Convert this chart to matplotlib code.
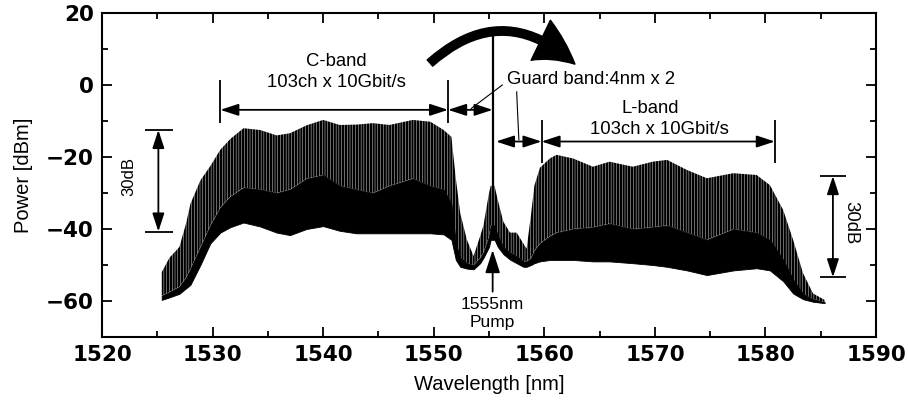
import matplotlib
matplotlib.use("Agg")
import matplotlib.pyplot as plt
from matplotlib.patches import FancyArrowPatch
from matplotlib.ticker import MultipleLocator

# spectrum envelope: wavelength [nm], channel peaks,
# top of the dense (unresolved) part, and the noise floor, all in dBm
wavelength = [
    1525.4, 1526.1, 1527.0, 1527.6, 1528.0, 1528.9, 1529.8, 1530.7, 1531.6,
    1532.8, 1534.3, 1535.8, 1537.0, 1538.5, 1540.0, 1541.5, 1543.0, 1544.5,
    1546.0, 1548.1, 1549.7, 1550.9, 1551.6, 1552.0, 1552.4, 1553.0, 1553.6,
    1554.2, 1554.5, 1555.0, 1555.15, 1555.5, 1555.8, 1556.3, 1556.9, 1557.5,
    1558.1, 1558.4, 1558.8, 1559.1, 1559.6, 1560.5, 1561.1, 1562.6, 1564.4,
    1565.9, 1568.0, 1569.8, 1571.1, 1572.9, 1574.7, 1577.1, 1579.2, 1580.4,
    1581.6, 1582.5, 1583.4, 1584.3, 1585.35,
]
peak_dbm = [
    -52.0, -48.0, -45.0, -38.5, -33.0, -26.5, -22.5, -18.0, -15.0,
    -12.0, -12.5, -14.0, -13.4, -11.2, -9.7, -11.1, -11.0, -10.6,
    -11.1, -9.7, -10.2, -12.5, -14.4, -26.0, -35.6, -43.0, -47.5,
    -42.0, -39.0, -30.0, -28.0, -28.0, -32.0, -38.0, -41.0, -41.0,
    -44.0, -45.5, -36.0, -28.0, -23.0, -20.4, -19.4, -20.4, -22.7,
    -21.3, -22.7, -21.3, -20.8, -23.6, -25.9, -24.5, -25.0, -27.8,
    -34.7, -43.0, -52.3, -57.9, -59.7,
]
dense_dbm = [
    -58.5, -57.5, -56.0, -53.5, -51.0, -45.0, -39.0, -34.0, -31.0,
    -28.5, -29.0, -30.0, -29.0, -26.0, -25.0, -28.0, -29.0, -30.0,
    -28.0, -26.0, -28.0, -29.0, -33.0, -44.0, -48.0, -49.5, -50.0,
    -48.0, -46.5, -42.0, -39.0, -39.0, -42.0, -45.0, -46.5, -47.5,
    -49.0, -49.0, -48.0, -46.0, -44.0, -42.0, -41.0, -40.0, -39.5,
    -38.5, -40.0, -39.5, -39.0, -41.0, -43.0, -40.0, -41.0, -43.0,
    -48.5, -54.0, -58.0, -59.5, -60.3,
]
floor_dbm = [
    -59.7, -59.0, -58.0, -56.5, -55.5, -50.0, -44.0, -41.0, -39.5,
    -38.2, -39.3, -41.0, -41.7, -40.0, -39.2, -40.5, -41.2, -41.2,
    -41.2, -41.2, -41.2, -41.5, -43.0, -48.6, -50.5, -51.0, -51.2,
    -49.5, -48.0, -45.0, -43.0, -43.0, -45.0, -47.0, -48.5, -49.5,
    -50.5, -50.5, -50.0, -49.5, -49.0, -48.6, -48.6, -48.6, -49.0,
    -49.0, -49.5, -50.0, -50.5, -51.5, -52.8, -51.5, -50.9, -51.5,
    -54.5, -57.9, -59.5, -60.2, -60.6,
]

pump_wl = 1555.33
pump_floor = -43.0
pump_peak = 15.8

c_band = (1530.7, 1551.3)
l_band = (1559.75, 1580.85)

plt.rcParams["hatch.linewidth"] = 1.7

fig = plt.figure(figsize=(9.08, 4.0), dpi=100)
ax = fig.add_axes([0.1123, 0.1575, 0.8525, 0.81])

# channel lines (about one per 2.8 px) between the dense part and the peaks
ax.fill_between(wavelength, dense_dbm, peak_dbm, facecolor="white",
                edgecolor="black", hatch="||||||", linewidth=0)
ax.fill_between(wavelength, floor_dbm, dense_dbm, color="black", linewidth=0.6)
ax.vlines(pump_wl, pump_floor, pump_peak, color="black", linewidth=1.6)

ax.set_xlim(1520, 1590)
ax.set_ylim(-70, 20)
ax.xaxis.set_major_locator(MultipleLocator(10))
ax.xaxis.set_minor_locator(MultipleLocator(5))
ax.yaxis.set_major_locator(MultipleLocator(20))
ax.yaxis.set_minor_locator(MultipleLocator(10))
ax.tick_params(which="both", direction="in", top=True, right=True, width=1.3)
ax.tick_params(which="major", length=7)
ax.tick_params(which="minor", length=4.5)
ax.tick_params(axis="x", pad=6)
ax.tick_params(axis="y", pad=6)
for spine in ax.spines.values():
    spine.set_linewidth(1.5)
for lab in ax.get_xticklabels() + ax.get_yticklabels():
    lab.set_fontfamily("DejaVu Sans")
    lab.set_fontweight("bold")
    lab.set_fontsize(15.5)

ax.set_xlabel("Wavelength [nm]", fontsize=14.5, family="Liberation Sans")
ax.set_ylabel("Power [dBm]", fontsize=14.5, family="Liberation Sans")
ax.xaxis.set_label_coords(0.5, -0.117)
ax.yaxis.set_label_coords(-0.089, 0.5)

txt = dict(family="Liberation Sans", fontsize=13.3, ha="center", va="center")
dbl = dict(arrowstyle="<|-|>,head_length=1.1,head_width=0.36",
           mutation_scale=10, color="black", lw=1.3,
           shrinkA=0, shrinkB=0)

# band arrows and limit bars
ax.annotate("", xy=(c_band[0], -6.9), xytext=(c_band[1], -6.9), arrowprops=dbl)
ax.annotate("", xy=(c_band[1], -6.9), xytext=(pump_wl, -6.9), arrowprops=dbl)
ax.annotate("", xy=(pump_wl + 0.3, -15.7), xytext=(l_band[0], -15.7), arrowprops=dbl)
ax.annotate("", xy=(l_band[0], -15.7), xytext=(l_band[1], -15.7), arrowprops=dbl)
ax.vlines(list(c_band), -10.6, 1.4, color="black", lw=1.3)
ax.vlines(list(l_band), -21.7, -9.7, color="black", lw=1.3)

ax.text(1541.2, 6.4, "C-band", **txt)
ax.text(1541.2, 0.6, "103ch x 10Gbit/s", **txt)
ax.text(1569.6, -6.4, "L-band", **txt)
ax.text(1570.4, -12.5, "103ch x 10Gbit/s", **txt)
ax.text(1556.6, 1.4, "Guard band:4nm x 2",
        **{**txt, "ha": "left"})
ax.plot([1556.2, 1553.4], [0.0, -6.5], color="black", lw=0.8)
ax.plot([1557.5, 1557.7], [-1.9, -15.2], color="black", lw=0.8)

# pump marker
ax.annotate("", xy=(pump_wl, -45.8), xytext=(pump_wl, -57.4),
            arrowprops=dict(arrowstyle="-|>,head_length=1.4,head_width=0.45",
                            mutation_scale=10, color="black", lw=1.3,
                            shrinkA=0, shrinkB=0))
ax.text(pump_wl, -61.1, "1555nm", **{**txt, "fontsize": 12.5})
ax.text(pump_wl, -66.0, "Pump", **{**txt, "fontsize": 12.5})

# 30 dB markers
ax.annotate("", xy=(1525.1, -12.5), xytext=(1525.1, -40.7), arrowprops=dbl)
ax.hlines([-12.5, -40.7], 1523.9, 1526.4, color="black", lw=1.3)
ax.text(1522.4, -25.3, "30dB", rotation=90, **{**txt, "fontsize": 12})
ax.annotate("", xy=(1586.1, -25.3), xytext=(1586.1, -53.4), arrowprops=dbl)
ax.hlines([-25.3, -53.4], 1584.9, 1587.3, color="black", lw=1.3)
ax.text(1587.7, -38.3, "30dB", rotation=-90, **txt)

# big curved arrow over the pump
arc = FancyArrowPatch((1549.66, 6.1), (1562.77, 5.8),
                      connectionstyle="arc3,rad=-0.45",
                      arrowstyle="simple,head_length=1.5,head_width=1.6,tail_width=0.3",
                      mutation_scale=20, color="black", shrinkA=0, shrinkB=0)
ax.add_patch(arc)

fig.savefig("out.png", dpi=100)
